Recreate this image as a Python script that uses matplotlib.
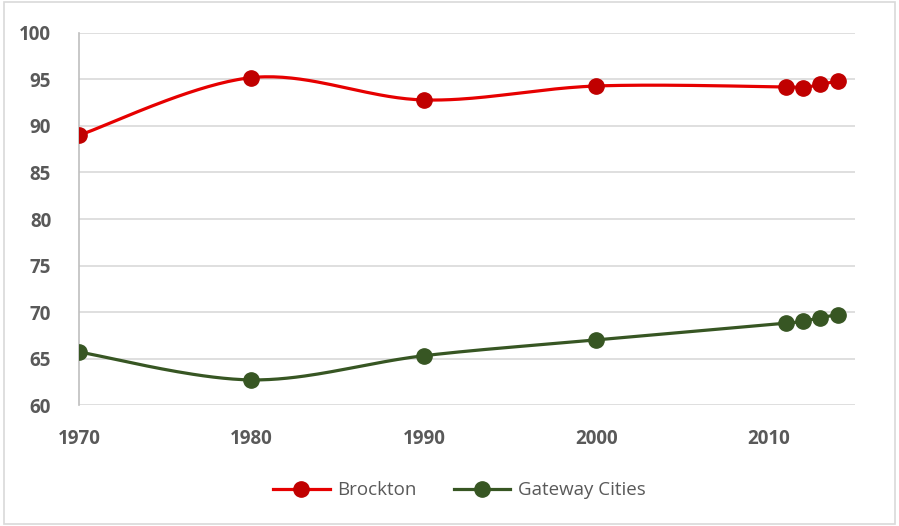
import numpy as np
import matplotlib
matplotlib.use("Agg")
import matplotlib.pyplot as plt
from matplotlib.patches import Rectangle

years = [1970, 1980, 1990, 2000, 2011, 2012, 2013, 2014]
brockton = [89.0, 95.2, 92.8, 94.3, 94.2, 94.1, 94.5, 94.8]
gateway = [65.7, 62.7, 65.3, 67.0, 68.8, 69.0, 69.4, 69.7]
series_names = ["Brockton", "Gateway Cities"]
y_ticks = [60, 65, 70, 75, 80, 85, 90, 95, 100]
x_ticks = [1970, 1980, 1990, 2000, 2010]

plt.rcParams['font.family'] = ['Open Sans', 'DejaVu Sans']


def excel_smooth(xs, ys, n=40):
    xs = np.asarray(xs, float)
    ys = np.asarray(ys, float)
    P = np.column_stack([xs, ys])
    out = []
    for i in range(len(P) - 1):
        p0 = P[i - 1] if i > 0 else P[i]
        p1 = P[i]
        p2 = P[i + 1]
        p3 = P[i + 2] if i + 2 < len(P) else P[i + 1]
        c1 = p1 + (p2 - p0) / 6.0
        c2 = p2 - (p3 - p1) / 6.0
        t = np.linspace(0, 1, n)[:, None]
        seg = ((1 - t) ** 3) * p1 + 3 * ((1 - t) ** 2) * t * c1 + 3 * (1 - t) * t ** 2 * c2 + t ** 3 * p2
        if i > 0:
            seg = seg[1:]
        out.append(seg)
    pts = np.vstack(out)
    return pts[:, 0], pts[:, 1]


fig = plt.figure(figsize=(8.99, 5.26), dpi=100)
ax = fig.add_axes([0.0879, 0.23, 0.951 - 0.0879, 0.9373 - 0.23])

styles = [
    dict(line="#E60000", marker="#C00000"),
    dict(line="#375623", marker="#375623"),
]
handles = []
for vals, name, st in zip([brockton, gateway], series_names, styles):
    sx, sy = excel_smooth(years, vals)
    ax.plot(sx, sy, color=st["line"], lw=2.3, solid_capstyle="round", zorder=3)
    ax.plot(years, vals, linestyle="none", marker="o", markersize=11,
            color=st["marker"], zorder=4)
    h, = ax.plot([], [], color=st["line"], lw=2.3, marker="o", markersize=11,
                 markerfacecolor=st["marker"], markeredgecolor=st["marker"], label=name)
    handles.append(h)

ax.set_xlim(1970, 2015)
ax.set_ylim(60, 100)
ax.set_xticks(x_ticks)
ax.set_yticks(y_ticks)
ax.grid(axis="y", color="#D9D9D9", lw=1.2)
ax.set_axisbelow(True)
for s in ["top", "right", "bottom"]:
    ax.spines[s].set_visible(False)
ax.spines["left"].set_color("#BFBFBF")
ax.spines["left"].set_linewidth(1.2)
ax.tick_params(axis="both", length=0, labelsize=13.5, labelcolor="#595959")
ax.tick_params(axis="y", pad=20)
ax.tick_params(axis="x", pad=17)
for lab in ax.get_xticklabels() + ax.get_yticklabels():
    lab.set_fontweight("bold")

leg = fig.legend(handles=handles, loc="center", bbox_to_anchor=(0.511, 0.068),
                 ncol=2, frameon=False, fontsize=13.5, handlelength=3.0,
                 columnspacing=2.0, handletextpad=0.4)
for t in leg.get_texts():
    t.set_color("#595959")

fig.patches.append(Rectangle((0.004, 0.004), 0.992, 0.992, transform=fig.transFigure,
                             fill=False, edgecolor="#D9D9D9", lw=1.2))

fig.savefig("out.png", dpi=100, facecolor="white")
